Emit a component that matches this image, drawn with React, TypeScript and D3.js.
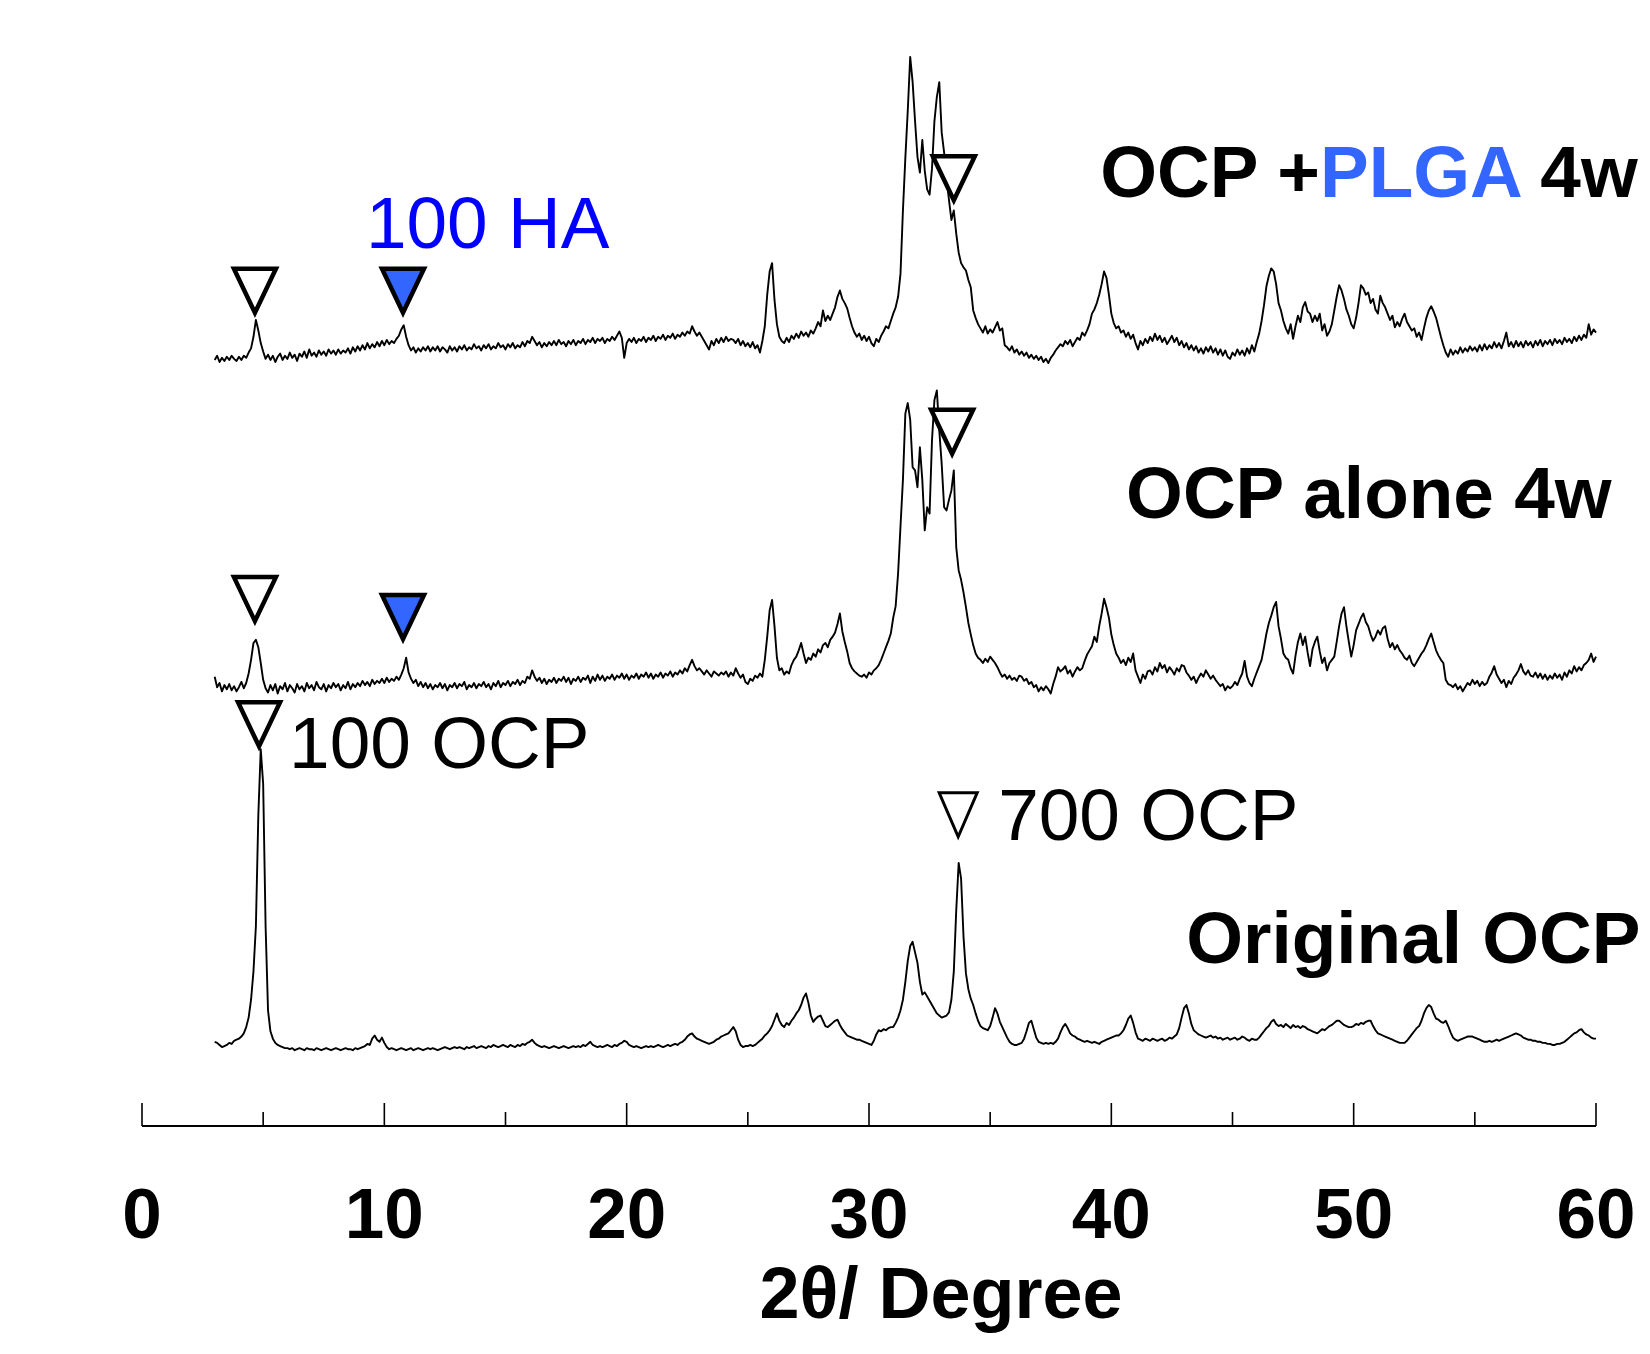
import React from "react";
import * as d3 from "d3";

// scan: 3.0 .. 60.0 deg 2theta, 0.1 deg step
const scanStart = 3;
const scanStep = 0.1;

// intensities (a.u.), one row per degree
const ocpPlga4w = [
  8, 12, 6, 10, 7, 11, 8, 12, 9, 7, // 3
  11, 8, 12, 10, 15, 19, 30, 46, 36, 24, // 4
  16, 9, 13, 8, 12, 6, 11, 14, 8, 12, // 5
  9, 15, 10, 13, 7, 14, 11, 16, 10, 18, // 6
  12, 15, 11, 17, 13, 16, 12, 18, 14, 17, // 7
  13, 18, 14, 17, 15, 19, 14, 20, 16, 21, // 8
  17, 22, 18, 24, 19, 23, 20, 25, 21, 26, // 9
  22, 27, 23, 26, 24, 28, 31, 37, 41, 30, // 10
  22, 17, 20, 15, 19, 16, 20, 17, 21, 16, // 11
  20, 17, 21, 16, 20, 18, 15, 21, 17, 20, // 12
  16, 21, 18, 22, 17, 20, 18, 23, 19, 21, // 13
  17, 22, 19, 23, 18, 21, 19, 24, 20, 22, // 14
  18, 23, 20, 24, 19, 22, 20, 25, 21, 26, // 15
  24, 30, 26, 22, 25, 20, 24, 21, 25, 22, // 16
  26, 22, 27, 23, 25, 21, 26, 23, 27, 22, // 17
  26, 24, 28, 23, 27, 25, 29, 24, 28, 26, // 18
  29, 24, 28, 26, 30, 27, 31, 35, 29, 10, // 19
  24, 28, 25, 29, 24, 28, 26, 30, 25, 29, // 20
  27, 31, 26, 30, 28, 32, 27, 31, 29, 33, // 21
  28, 32, 30, 34, 31, 35, 33, 40, 35, 31, // 22
  34, 30, 26, 22, 18, 26, 22, 28, 24, 29, // 23
  25, 30, 26, 28, 27, 24, 28, 22, 26, 21, // 24
  24, 20, 25, 19, 22, 15, 26, 40, 70, 92, // 25
  100, 65, 42, 30, 26, 24, 29, 25, 31, 28, // 26
  33, 29, 35, 31, 34, 30, 36, 33, 38, 44, // 27
  40, 55, 45, 50, 46, 52, 58, 68, 74, 66, // 28
  62, 57, 48, 40, 34, 30, 33, 27, 31, 26, // 29
  30, 24, 21, 28, 25, 31, 35, 40, 38, 45, // 30
  52, 58, 68, 90, 150, 200, 245, 296, 272, 235, // 31
  201, 186, 217, 188, 170, 165, 190, 235, 258, 272, // 32
  224, 205, 180, 160, 141, 150, 128, 110, 100, 96, // 33
  93, 84, 77, 55, 48, 42, 38, 34, 40, 33, // 34
  37, 34, 39, 44, 36, 38, 22, 20, 17, 21, // 35
  15, 18, 13, 16, 12, 15, 10, 13, 9, 12, // 36
  8, 11, 6, 9, 5, 10, 13, 17, 20, 23, // 37
  21, 26, 23, 27, 21, 25, 29, 27, 34, 31, // 38
  36, 42, 52, 56, 62, 70, 80, 92, 86, 70, // 39
  52, 43, 38, 40, 34, 36, 30, 34, 28, 32, // 40
  24, 18, 26, 22, 28, 24, 30, 26, 33, 27, // 41
  31, 25, 29, 23, 27, 31, 25, 29, 22, 26, // 42
  20, 24, 18, 22, 17, 21, 15, 19, 14, 20, // 43
  16, 21, 15, 19, 13, 18, 12, 17, 11, 9, // 44
  15, 12, 18, 13, 17, 12, 19, 14, 22, 16, // 45
  25, 33, 45, 60, 78, 88, 95, 92, 80, 62, // 46
  55, 45, 38, 33, 42, 28, 40, 50, 44, 58, // 47
  63, 54, 52, 44, 50, 45, 52, 36, 42, 31, // 48
  35, 42, 55, 68, 79, 74, 66, 56, 50, 42, // 49
  38, 48, 62, 79, 76, 70, 72, 62, 66, 56, // 50
  52, 69, 62, 58, 52, 46, 50, 39, 44, 40, // 51
  47, 52, 44, 40, 36, 38, 30, 34, 27, 38, // 52
  48, 55, 59, 54, 48, 39, 30, 22, 15, 11, // 53
  18, 13, 17, 14, 20, 15, 19, 16, 21, 17, // 54
  20, 16, 22, 17, 23, 18, 22, 19, 25, 20, // 55
  24, 19, 26, 34, 21, 25, 20, 26, 21, 25, // 56
  20, 26, 22, 25, 20, 26, 22, 27, 21, 26, // 57
  23, 27, 22, 28, 24, 27, 23, 29, 25, 28, // 58
  24, 30, 26, 31, 27, 32, 29, 42, 32, 37, // 59
  34,
];

const ocpAlone4w = [
  22, 12, 16, 8, 14, 10, 15, 9, 13, 8, // 3
  12, 17, 11, 16, 25, 38, 54, 57, 50, 35, // 4
  19, 11, 7, 14, 9, 15, 6, 13, 10, 16, // 5
  8, 14, 11, 7, 15, 10, 13, 8, 16, 11, // 6
  14, 9, 17, 12, 10, 15, 8, 14, 11, 16, // 7
  12, 15, 9, 14, 11, 17, 10, 15, 12, 16, // 8
  13, 18, 14, 17, 13, 19, 15, 18, 16, 20, // 9
  16, 21, 17, 20, 18, 22, 19, 24, 30, 40, // 10
  26, 20, 16, 19, 13, 17, 12, 16, 11, 15, // 11
  10, 14, 12, 16, 11, 15, 9, 14, 12, 16, // 12
  11, 15, 13, 17, 10, 14, 12, 16, 11, 15, // 13
  13, 17, 12, 15, 10, 16, 13, 18, 12, 16, // 14
  14, 18, 13, 17, 15, 19, 14, 18, 16, 22, // 15
  20, 28, 22, 18, 21, 16, 20, 15, 19, 17, // 16
  21, 16, 20, 18, 22, 17, 21, 15, 20, 18, // 17
  22, 17, 21, 19, 23, 16, 22, 18, 24, 19, // 18
  23, 18, 22, 20, 24, 19, 23, 21, 25, 20, // 19
  24, 19, 23, 21, 25, 20, 24, 22, 26, 21, // 20
  25, 20, 24, 22, 26, 21, 25, 23, 27, 22, // 21
  26, 24, 28, 25, 30, 27, 33, 38, 32, 28, // 22
  30, 27, 24, 28, 25, 22, 27, 25, 23, 26, // 23
  24, 27, 22, 26, 23, 30, 25, 21, 24, 17, // 24
  15, 20, 18, 23, 21, 25, 22, 38, 60, 85, // 25
  95, 70, 40, 28, 30, 24, 27, 25, 33, 38, // 26
  41, 47, 54, 44, 35, 40, 38, 44, 41, 48, // 27
  45, 52, 54, 50, 57, 60, 64, 72, 82, 65, // 28
  55, 46, 35, 30, 27, 25, 23, 22, 24, 21, // 29
  26, 24, 28, 30, 33, 38, 44, 50, 56, 63, // 30
  78, 89, 120, 165, 209, 272, 282, 266, 221, 218, // 31
  202, 240, 209, 161, 183, 177, 247, 285, 294, 256, // 32
  224, 183, 180, 190, 199, 218, 145, 123, 114, 102, // 33
  88, 73, 62, 52, 44, 40, 38, 35, 39, 36, // 34
  41, 38, 35, 31, 26, 22, 24, 20, 23, 19, // 35
  21, 18, 23, 22, 18, 20, 15, 17, 12, 14, // 36
  8, 12, 9, 13, 10, 6, 15, 22, 31, 27, // 37
  29, 32, 25, 28, 22, 27, 31, 28, 30, 37, // 38
  43, 47, 51, 60, 55, 70, 82, 96, 88, 78, // 39
  62, 52, 44, 40, 35, 38, 33, 40, 36, 44, // 40
  28, 22, 16, 24, 20, 27, 28, 24, 31, 27, // 41
  35, 30, 33, 26, 31, 28, 24, 30, 27, 33, // 42
  32, 26, 23, 19, 22, 16, 21, 25, 22, 28, // 43
  24, 20, 23, 19, 16, 13, 15, 9, 13, 11, // 44
  13, 17, 14, 20, 25, 37, 22, 16, 13, 20, // 45
  26, 32, 38, 50, 63, 73, 80, 88, 93, 70, // 46
  58, 44, 40, 38, 30, 25, 42, 55, 63, 52, // 47
  60, 45, 32, 48, 55, 60, 46, 35, 40, 28, // 48
  35, 38, 41, 55, 70, 82, 88, 70, 55, 41, // 49
  52, 66, 72, 78, 82, 74, 70, 62, 56, 60, // 50
  66, 62, 68, 70, 58, 50, 54, 48, 52, 47, // 51
  44, 40, 38, 42, 35, 32, 36, 40, 44, 47, // 52
  52, 58, 63, 55, 47, 42, 38, 35, 19, 15, // 53
  14, 12, 15, 10, 13, 8, 12, 16, 14, 19, // 54
  15, 18, 13, 17, 14, 16, 22, 26, 32, 24, // 55
  20, 16, 19, 12, 18, 15, 21, 24, 28, 34, // 56
  27, 24, 28, 23, 22, 26, 21, 25, 20, 24, // 57
  19, 23, 20, 25, 21, 24, 19, 26, 22, 28, // 58
  25, 32, 27, 31, 28, 33, 35, 38, 44, 36, // 59
  41,
];

const originalOcp = [
  15, 14, 12, 10, 11, 12, 14, 13, 16, 17, // 3
  18, 20, 23, 29, 38, 55, 82, 125, 230, 293, // 4
  260, 125, 45, 25, 18, 14, 12, 11, 10, 9, // 5
  9, 8, 9, 7, 8, 9, 8, 7, 9, 8, // 6
  8, 7, 9, 8, 7, 8, 9, 8, 7, 8, // 7
  9, 8, 7, 8, 9, 8, 8, 7, 9, 8, // 8
  9, 10, 11, 13, 12, 18, 21, 17, 15, 19, // 9
  14, 10, 8, 9, 8, 7, 8, 9, 8, 7, // 10
  8, 9, 7, 8, 9, 8, 7, 8, 9, 8, // 11
  9, 8, 7, 8, 9, 10, 9, 8, 9, 10, // 12
  9, 10, 9, 8, 10, 9, 10, 11, 9, 10, // 13
  11, 10, 9, 11, 10, 12, 11, 10, 11, 12, // 14
  11, 10, 12, 11, 10, 12, 11, 13, 12, 14, // 15
  15, 17, 14, 12, 11, 10, 11, 10, 9, 10, // 16
  11, 10, 9, 10, 11, 10, 9, 10, 11, 10, // 17
  11, 10, 12, 11, 13, 15, 12, 11, 10, 11, // 18
  10, 11, 12, 11, 10, 12, 11, 13, 14, 16, // 19
  15, 12, 11, 10, 11, 10, 9, 10, 11, 10, // 20
  11, 10, 11, 12, 11, 10, 11, 12, 11, 12, // 21
  13, 12, 14, 15, 17, 20, 22, 23, 20, 18, // 22
  17, 16, 15, 14, 13, 14, 15, 17, 18, 20, // 23
  21, 22, 23, 26, 29, 25, 17, 12, 10, 11, // 24
  11, 12, 11, 12, 14, 16, 18, 21, 23, 26, // 25
  30, 36, 42, 35, 31, 29, 33, 31, 35, 38, // 26
  42, 45, 50, 57, 61, 52, 40, 34, 37, 39, // 27
  40, 35, 30, 29, 31, 33, 35, 36, 31, 27, // 28
  24, 21, 20, 19, 18, 17, 17, 16, 15, 14, // 29
  13, 12, 16, 22, 26, 25, 27, 26, 28, 29, // 30
  29, 33, 38, 45, 55, 72, 92, 106, 110, 100, // 31
  90, 72, 60, 62, 58, 54, 50, 46, 42, 40, // 32
  38, 39, 40, 43, 55, 82, 140, 185, 170, 115, // 33
  80, 65, 56, 50, 42, 35, 30, 28, 27, 26, // 34
  30, 38, 47, 42, 34, 29, 24, 19, 15, 13, // 35
  12, 12, 13, 14, 18, 25, 33, 35, 27, 19, // 36
  15, 14, 13, 14, 13, 14, 13, 15, 18, 24, // 37
  29, 32, 28, 23, 21, 20, 18, 17, 16, 15, // 38
  16, 15, 14, 15, 14, 13, 15, 16, 17, 18, // 39
  19, 20, 21, 21, 23, 26, 31, 37, 40, 33, // 40
  24, 18, 17, 16, 18, 17, 16, 18, 17, 16, // 41
  17, 18, 16, 17, 19, 18, 20, 22, 28, 38, // 42
  47, 50, 42, 32, 26, 24, 22, 21, 20, 19, // 43
  20, 21, 19, 20, 18, 19, 17, 18, 19, 17, // 44
  18, 19, 17, 18, 20, 19, 17, 16, 18, 17, // 45
  17, 19, 22, 25, 28, 30, 34, 36, 32, 30, // 46
  31, 29, 32, 30, 28, 31, 29, 30, 28, 30, // 47
  29, 27, 26, 25, 24, 23, 25, 27, 26, 28, // 48
  30, 31, 33, 35, 35, 33, 31, 30, 29, 29, // 49
  30, 32, 31, 33, 32, 34, 35, 35, 30, 26, // 50
  23, 22, 21, 20, 19, 18, 17, 16, 15, 14, // 51
  14, 14, 16, 19, 22, 25, 28, 30, 35, 42, // 52
  47, 50, 48, 42, 37, 36, 34, 33, 35, 30, // 53
  24, 19, 17, 16, 17, 18, 19, 20, 20, 20, // 54
  19, 18, 17, 16, 15, 15, 16, 15, 16, 17, // 55
  16, 17, 18, 19, 20, 21, 22, 23, 22, 21, // 56
  19, 18, 17, 17, 16, 16, 15, 15, 14, 14, // 57
  13, 13, 12, 12, 13, 13, 14, 15, 17, 19, // 58
  21, 23, 24, 26, 27, 24, 22, 21, 19, 18, // 59
  18,
];

// vertical stacking offsets (a.u.)
const traceOffsets = [655, 340, 0];
const traces = [ocpPlga4w, ocpAlone4w, originalOcp];

const majorTicks = [0, 10, 20, 30, 40, 50, 60];
const minorTicks = [5, 15, 25, 35, 45, 55];

// reflection markers: angle (deg), tip level (a.u., stacked), kind
const markers = [
  { angle: 4.66, level: 704, kind: "open" },
  { angle: 10.77, level: 704, kind: "ha" },
  { angle: 33.5, level: 811, kind: "open" },
  { angle: 4.66, level: 411, kind: "open" },
  { angle: 10.77, level: 394, kind: "ha" },
  { angle: 33.43, level: 570, kind: "open" },
  { angle: 4.83, level: 292, kind: "open" },
  { angle: 33.68, level: 208, kind: "small" },
];

const labels = [
  { angle: 6.07, level: 275, text: "100 OCP", bold: false, color: "#000" },
  { angle: 35.33, level: 207, text: "700 OCP", bold: false, color: "#000" },
  { angle: 9.24, level: 769, text: "100 HA", bold: false, color: "#0000ff" },
  { angle: 40.61, level: 513, text: "OCP alone 4w", bold: true, color: "#000" },
  { angle: 43.09, level: 90, text: "Original OCP", bold: true, color: "#000" },
];

const W = 1650;
const H = 1354;
const FONT = "'Liberation Sans', Arial, Helvetica, sans-serif";

export default function App() {
  const x = d3.scaleLinear().domain([0, 60]).range([142, 1596]);
  const y = d3.scaleLinear().domain([0, 1000]).range([1057.6, 5.3]);
  const axisY = 1126;

  const line = d3
    .line<number>()
    .x((d, i) => x(scanStart + i * scanStep))
    .y((d) => d);

  const tri = (cx: number, tipY: number, w: number, h: number) =>
    `M${cx - w / 2},${tipY - h}L${cx + w / 2},${tipY - h}L${cx},${tipY}Z`;

  return (
    <svg
      width={W}
      height={H}
      style={{ position: "absolute", left: 0, top: 0, background: "#fff" }}
      fontFamily={FONT}
    >
      {traces.map((t, k) => (
        <path
          key={k}
          d={line(t.map((v) => y(v + traceOffsets[k]))) || ""}
          fill="none"
          stroke="#000"
          strokeWidth={1.9}
          strokeLinejoin="round"
        />
      ))}

      {markers.map((m, i) => {
        const small = m.kind === "small";
        return (
          <path
            key={i}
            d={tri(x(m.angle), y(m.level) - (small ? 2 : 4), small ? 38 : 42, 44)}
            fill={m.kind === "ha" ? "#3366ff" : "#fff"}
            stroke="#000"
            strokeWidth={small ? 3 : 4.5}
            strokeLinejoin="miter"
          />
        );
      })}

      {labels.map((l, i) => (
        <text
          key={i}
          x={x(l.angle)}
          y={y(l.level)}
          fontSize={73}
          fontWeight={l.bold ? 700 : 400}
          fill={l.color}
        >
          {l.text}
        </text>
      ))}
      <text x={x(39.54)} y={y(818)} fontSize={73} fontWeight={700} fill="#000">
        {"OCP +"}
        <tspan fill="#3366ff">PLGA</tspan>
        {" 4w"}
      </text>

      {/* axis */}
      <line x1={x(0)} x2={x(60)} y1={axisY} y2={axisY} stroke="#000" strokeWidth={2} />
      {majorTicks.map((t) => (
        <line key={t} x1={x(t)} x2={x(t)} y1={axisY} y2={axisY - 23} stroke="#000" strokeWidth={1.6} />
      ))}
      {minorTicks.map((t) => (
        <line key={t} x1={x(t)} x2={x(t)} y1={axisY} y2={axisY - 14} stroke="#000" strokeWidth={1.6} />
      ))}
      {majorTicks.map((t) => (
        <text key={t} x={x(t)} y={1238} fontSize={71} fontWeight={700} textAnchor="middle">
          {t}
        </text>
      ))}
      <text x={941} y={1318} fontSize={72} fontWeight={700} textAnchor="middle">
        2θ/ Degree
      </text>
    </svg>
  );
}
